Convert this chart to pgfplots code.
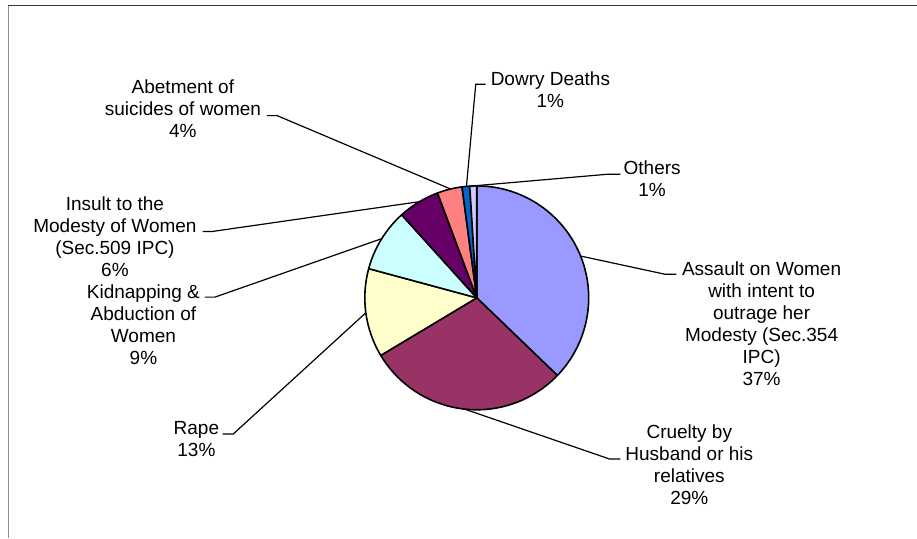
\documentclass[border=0pt]{standalone}
\usepackage{pgfplots}
\pgfplotsset{compat=1.18}
\usepackage{fontspec}
\setmainfont{Liberation Sans}

\definecolor{cAssault}{HTML}{9999FF}
\definecolor{cCruelty}{HTML}{993366}
\definecolor{cRape}{HTML}{FFFFCC}
\definecolor{cKidnap}{HTML}{CCFFFF}
\definecolor{cInsult}{HTML}{660066}
\definecolor{cAbet}{HTML}{FF8080}
\definecolor{cDowry}{HTML}{0066CC}
\definecolor{cOthers}{HTML}{CCCCFF}

\newcommand{\lab}{\fontsize{19}{22}\selectfont}
% label: centre x, first baseline (image y, from top), lines
\newcommand{\pielabel}[3]{%
  \node[anchor=base, inner sep=0pt, font=\lab] at (axis cs:#1,{538-#2})
    {\begin{tabular}[t]{@{}c@{}}#3\end{tabular}};}

\begin{document}
\begin{tikzpicture}
\begin{axis}[
    width=917pt, height=538pt,
    scale only axis,
    xmin=0, xmax=917, ymin=0, ymax=538,
    hide axis,
    clip=false,
]
\path (axis cs:0,0) rectangle (axis cs:917,538);

% chart frame
\draw[color=black!80, line width=1pt] (axis cs:8,532) -- (axis cs:917,532);
\draw[color=black!45, line width=1.6pt] (axis cs:8.5,532) -- (axis cs:8.5,0);

% pie: shares in percent, clockwise from 12 o'clock
\pgfplotsextra{
  \gdef\angA{90}
  \foreach \v/\col in {37.2/cAssault, 29.2/cCruelty, 12.8/cRape, 9.1/cKidnap,
                       6.0/cInsult, 3.6/cAbet, 1.1/cDowry, 1.0/cOthers}{
    \pgfmathsetmacro\angB{\angA-3.6*\v}
    \filldraw[fill=\col, draw=black, line width=1.6pt, line join=round]
      (axis cs:477,240) -- ++(\angA:112pt)
      arc[start angle=\angA, end angle=\angB, radius=112pt] -- cycle;
    \xdef\angA{\angB}
  }
}

% leader lines (image y from top)
\begin{scope}[line width=1.2pt]
\draw (axis cs:580,{538-256}) -- (axis cs:665,{538-274.3}) -- (axis cs:676.7,{538-274.3});
\draw (axis cs:463.9,{538-409}) -- (axis cs:610,{538-459.3}) -- (axis cs:620.7,{538-459.3});
\draw (axis cs:366,{538-313}) -- (axis cs:233.3,{538-434.3}) -- (axis cs:222.7,{538-434.3});
\draw (axis cs:381.9,{538-238.8}) -- (axis cs:215,{538-297.3}) -- (axis cs:205,{538-297.3});
\draw (axis cs:419.7,{538-201.8}) -- (axis cs:211.7,{538-231.7}) -- (axis cs:202.7,{538-231.7});
\draw (axis cs:450.8,{538-189.1}) -- (axis cs:277.3,{538-115.7}) -- (axis cs:267.3,{538-115.7});
\draw (axis cs:466.7,{538-186.5}) -- (axis cs:476,{538-84.3}) -- (axis cs:486,{538-84.3});
\draw (axis cs:473.7,{538-186}) -- (axis cs:608.3,{538-174.3}) -- (axis cs:620.7,{538-174.3});
\end{scope}

% data labels
\pielabel{762}{276}{Assault on Women\\with intent to\\outrage her\\Modesty (Sec.354\\IPC)\\37\%}
\pielabel{689.7}{438.3}{Cruelty by\\Husband or his\\relatives\\29\%}
\pielabel{196.5}{435}{Rape\\13\%}
\pielabel{143.5}{298.3}{Kidnapping \&\\Abduction of\\Women\\9\%}
\pielabel{115}{210.7}{Insult to the\\Modesty of Women\\(Sec.509 IPC)\\6\%}
\pielabel{183}{93.5}{Abetment of\\suicides of women\\4\%}
\pielabel{550.7}{86}{Dowry Deaths\\1\%}
\pielabel{652.5}{175}{Others\\1\%}

\end{axis}
\end{tikzpicture}
\end{document}
